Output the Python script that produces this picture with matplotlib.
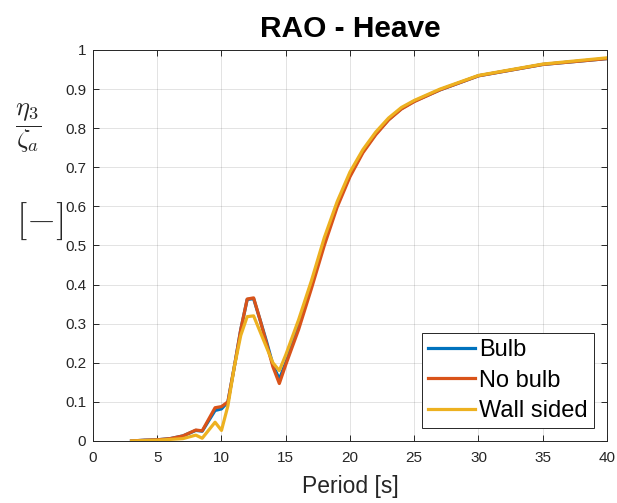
import numpy as np
import matplotlib
matplotlib.use("Agg")
import matplotlib.pyplot as plt

plt.rcParams['font.family'] = ['Liberation Sans', 'DejaVu Sans']
plt.rcParams['mathtext.fontset'] = 'cm'

# ===================== data =====================
period = [3, 4, 5, 6, 7, 8, 8.5, 9.5, 10, 10.5, 11, 11.5, 12, 12.5, 13, 13.5,
          14, 14.5, 15, 16, 17, 18, 19, 20, 21, 22, 23, 24, 25, 27, 30, 35, 40]

rao_bulb = [0, 0.002, 0.003, 0.006, 0.013, 0.027, 0.025, 0.078, 0.082, 0.10,
            0.19, 0.285, 0.362, 0.364, 0.31, 0.255, 0.195, 0.158, 0.20, 0.295,
            0.40, 0.51, 0.605, 0.68, 0.74, 0.785, 0.822, 0.85, 0.869, 0.898,
            0.934, 0.963, 0.978]

rao_no_bulb = [0, 0.002, 0.003, 0.006, 0.013, 0.028, 0.026, 0.085, 0.088, 0.10,
               0.19, 0.285, 0.363, 0.366, 0.31, 0.25, 0.19, 0.147, 0.195, 0.285,
               0.39, 0.50, 0.598, 0.676, 0.737, 0.783, 0.821, 0.849, 0.868,
               0.898, 0.934, 0.963, 0.978]

rao_wall = [0, 0.001, 0.002, 0.004, 0.006, 0.015, 0.007, 0.048, 0.027, 0.09,
            0.19, 0.27, 0.318, 0.32, 0.28, 0.24, 0.20, 0.18, 0.22, 0.31, 0.41,
            0.52, 0.612, 0.688, 0.745, 0.79, 0.826, 0.853, 0.871, 0.90, 0.935,
            0.964, 0.98]

labels = ['Bulb', 'No bulb', 'Wall sided']
colors = ['#0072BD', '#D95319', '#EDB120']

# ===================== plot =====================
fig = plt.figure(figsize=(6.17, 5.03), dpi=100)
ax = fig.add_axes([0.1507, 0.1233, 0.8331, 0.7773])

for y, lab, c in zip([rao_bulb, rao_no_bulb, rao_wall], labels, colors):
    ax.plot(period, y, color=c, linewidth=2.3, label=lab)

ax.set_xlim(0, 40)
ax.set_ylim(0, 1)
ax.set_xticks(np.arange(0, 41, 5))
ax.set_yticks(np.arange(0, 1.01, 0.1))
ax.set_yticklabels(['0', '0.1', '0.2', '0.3', '0.4', '0.5', '0.6', '0.7', '0.8', '0.9', '1'])

ax.grid(True, color='#262626', alpha=0.15, linewidth=0.6)
ax.tick_params(direction='in', top=True, right=True, length=4, width=0.7,
               colors='#262626', labelsize=11)
ax.tick_params(axis='x', pad=7)
ax.tick_params(axis='y', pad=5)
for s in ax.spines.values():
    s.set_color('#262626')
    s.set_linewidth(0.7)

ax.set_title('RAO - Heave', fontsize=21.5, fontweight='bold', pad=9)
ax.set_xlabel('Period [s]', fontsize=16.5, color='#262626', labelpad=7.5)

# y label: fraction and unit brackets, drawn horizontally like the original
fig.text(0.045, 0.745, r'$\dfrac{\eta_3}{\zeta_a}$', fontsize=19,
         ha='center', va='center', color='#262626')
fig.text(0.065, 0.56, r'$[-]$', fontsize=27,
         ha='center', va='center', color='#262626')

leg = ax.legend(loc='lower right', fontsize=17, fancybox=False, framealpha=1,
                edgecolor='#262626', borderaxespad=0.55, handlelength=2.0,
                handletextpad=0.2, labelspacing=0.36, borderpad=0.25)
leg.get_frame().set_linewidth(0.7)

fig.savefig('out.png', dpi=100)
